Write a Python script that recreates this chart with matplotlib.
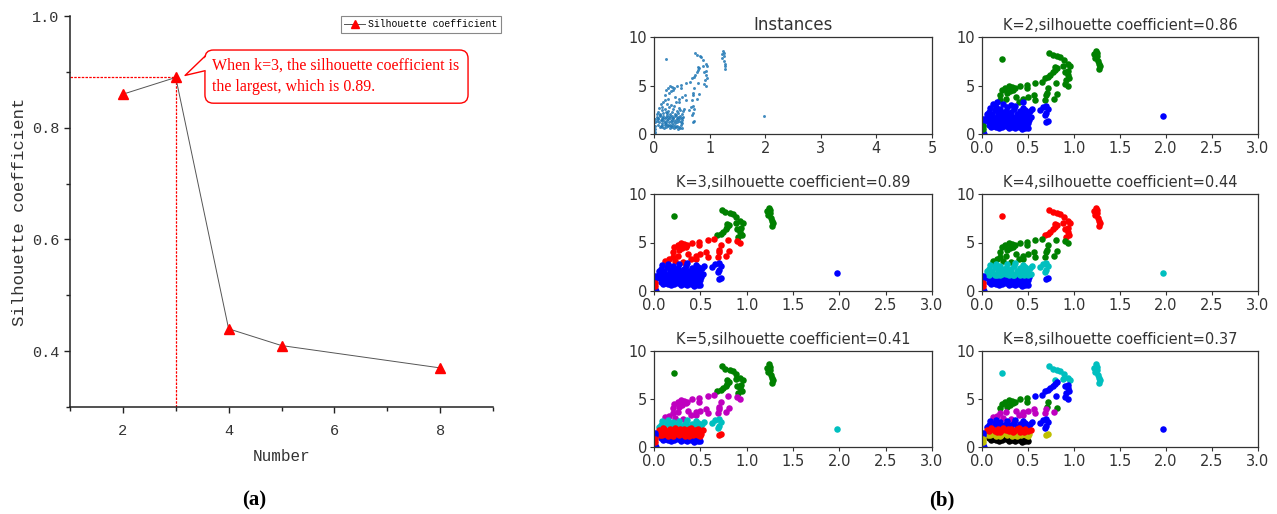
import matplotlib
matplotlib.use("Agg")
from matplotlib import pyplot as plt
from matplotlib.patches import FancyBboxPatch, Polygon
import matplotlib.ticker as tck

plt.rcParams.update({
    "font.family": "DejaVu Sans",
    "axes.linewidth": 0.9,
})

# (a) silhouette coefficient against number of clusters
K_VALUES = [2, 3, 4, 5, 8]
SIL_SCORES = [0.86, 0.89, 0.44, 0.41, 0.37]

# (b) the instances, grouped by region of the plane
top_x = [0.22, 0.73, 0.77, 0.82, 0.85, 0.89, 0.93, 0.96, 0.79, 0.88,
         1.22, 1.24, 1.25, 1.23, 1.26, 1.27, 1.28, 1.27, 1.25]
top_y = [7.7, 8.4, 8.15, 8.05, 7.95, 7.6, 7.2, 7.0, 6.95, 7.05,
         8.2, 8.6, 8.0, 7.85, 7.5, 7.2, 7.0, 6.65, 8.3]

arm_x = [0.685, 0.72, 0.74, 0.775, 0.79, 0.81, 0.90, 0.93, 0.91, 0.95, 0.94]
arm_y = [5.8, 5.9, 6.1, 6.4, 6.6, 6.8, 6.4, 6.1, 5.6, 5.8, 6.5]

mid_x = [0.58, 0.65, 0.80, 0.90, 0.93]
mid_y = [5.3, 5.4, 5.3, 5.2, 5.0]

band45_x = [0.20, 0.22, 0.255, 0.275, 0.29, 0.325, 0.36, 0.41, 0.49, 0.49,
            0.72, 0.705, 0.81, 0.30, 0.34]
band45_y = [4.05, 4.5, 4.7, 4.2, 4.9, 4.8, 4.7, 4.95, 5.1, 4.7,
            4.7, 4.2, 4.1, 4.4, 4.55]

band34_hi_x = [0.20, 0.26, 0.40, 0.45, 0.50, 0.56, 0.58, 0.69, 0.70, 0.78, 0.37]
band34_hi_y = [3.5, 3.65, 3.35, 3.6, 3.8, 4.0, 3.5, 3.5, 4.0, 3.6, 3.8]

band34_lo_x = [0.12, 0.16, 0.23, 0.31, 0.45]
band34_lo_y = [3.1, 3.25, 3.05, 2.95, 3.3]

low4_x = [0.05, 0.08, 0.11, 0.14, 0.17, 0.20, 0.23, 0.26, 0.29, 0.32, 0.35, 0.38,
          0.41, 0.44, 0.47, 0.50, 0.54, 0.09, 0.15, 0.21, 0.27, 0.36, 0.45, 0.52,
          0.63, 0.66, 0.70, 0.72, 0.69, 0.70, 1.97]
low4_y = [2.10, 2.30, 2.05, 2.50, 2.20, 2.60, 2.15, 2.40, 2.05, 2.30, 2.55, 2.10,
          2.35, 2.20, 2.50, 2.10, 2.60, 2.70, 2.80, 2.30, 2.75, 2.85, 2.70, 2.40,
          2.50, 2.80, 2.20, 2.60, 1.95, 2.90, 1.85]

low3_x = [0.05, 0.08, 0.11, 0.14, 0.17, 0.20, 0.23, 0.26, 0.29, 0.32, 0.35, 0.38,
          0.41, 0.44, 0.47, 0.50, 0.53, 0.10, 0.16, 0.22, 0.28, 0.34, 0.40, 0.46]
low3_y = [1.80, 1.65, 1.90, 1.70, 1.85, 1.60, 1.95, 1.75, 1.65, 1.90, 1.70, 1.85,
          1.60, 1.75, 1.90, 1.65, 1.80, 1.95, 1.60, 1.80, 1.90, 1.60, 1.95, 1.60]

low2_x = [0.06, 0.09, 0.12, 0.15, 0.18, 0.21, 0.24, 0.27, 0.30, 0.33, 0.36, 0.39,
          0.42, 0.45, 0.48, 0.51, 0.08, 0.14, 0.20, 0.26, 0.32, 0.38, 0.44, 0.50,
          0.70, 0.72]
low2_y = [1.30, 1.20, 1.40, 1.15, 1.35, 1.25, 1.45, 1.20, 1.35, 1.15, 1.30, 1.40,
          1.20, 1.35, 1.25, 1.40, 1.50, 1.45, 1.10, 1.50, 1.45, 1.10, 1.50, 1.15,
          1.25, 1.35]

low1_x = [0.08, 0.12, 0.15, 0.19, 0.22, 0.26, 0.29, 0.33, 0.36, 0.40, 0.43, 0.47,
          0.50, 0.10, 0.14, 0.18, 0.21, 0.25, 0.28, 0.31, 0.35, 0.38, 0.42, 0.45, 0.48]
low1_y = [0.95, 0.85, 0.75, 0.90, 0.70, 0.80, 0.65, 0.75, 0.60, 0.70, 0.55, 0.65,
          0.60, 0.70, 0.95, 0.60, 1.00, 0.90, 0.95, 0.85, 0.90, 0.80, 0.85, 0.75, 0.90]

origin_a_x = [0.01, 0.01, 0.01, 0.02]
origin_a_y = [1.5, 1.2, 0.25, 0.05]
origin_b_x = [0.015, 0.01]
origin_b_y = [0.8, 0.5]

GROUP_ORDER = ["top", "arm", "mid", "band45", "band34_hi", "band34_lo",
               "low4", "low1", "low2", "low3", "origin_a", "origin_b"]
GROUP_XY = {
    "top": (top_x, top_y), "arm": (arm_x, arm_y), "mid": (mid_x, mid_y),
    "band45": (band45_x, band45_y), "band34_hi": (band34_hi_x, band34_hi_y),
    "band34_lo": (band34_lo_x, band34_lo_y), "low4": (low4_x, low4_y),
    "low3": (low3_x, low3_y), "low2": (low2_x, low2_y), "low1": (low1_x, low1_y),
    "origin_a": (origin_a_x, origin_a_y), "origin_b": (origin_b_x, origin_b_y),
}

# cluster colour of every group, per clustering
COLORS_K2 = ["g", "g", "g", "g", "g", "b", "b", "b", "b", "b", "b", "g"]
COLORS_K3 = ["g", "g", "r", "r", "r", "r", "b", "b", "b", "b", "b", "r"]
COLORS_K4 = ["r", "r", "g", "g", "g", "g", "c", "b", "b", "c", "b", "r"]
COLORS_K5 = ["g", "g", "m", "m", "m", "m", "c", "b", "r", "r", "b", "r"]
COLORS_K8 = ["c", "b", "b", "g", "m", "m", "b", "k", "y", "r", "b", "y"]
CLUSTERINGS = [(2, COLORS_K2), (3, COLORS_K3), (4, COLORS_K4),
               (5, COLORS_K5), (8, COLORS_K8)]

W, H = 1277, 514
fig = plt.figure(figsize=(W / 100, H / 100), dpi=100)


def px_axes(left, top, right, bottom):
    return fig.add_axes([left / W, 1 - bottom / H, (right - left) / W, (bottom - top) / H])


# ---------------- (a) ----------------
mono = "Liberation Mono"
ax = px_axes(70, 16, 493, 407)
line, = ax.plot(K_VALUES, SIL_SCORES, color="#555555", lw=0.7, marker="^",
                ms=7.5, mfc="red", mec="red", label="Silhouette coefficient", zorder=3)
best = SIL_SCORES.index(max(SIL_SCORES))
best_k, best_s = K_VALUES[best], SIL_SCORES[best]
ax.set_xlim(1, 9)
ax.set_ylim(0.3, 1.0)
ax.plot([1, best_k], [best_s, best_s], color="red", lw=0.9, ls=(0, (2, 1)), zorder=2)
ax.plot([best_k, best_k], [0.3, best_s], color="red", lw=0.9, ls=(0, (2, 1)), zorder=2)

for s in ["top", "right"]:
    ax.spines[s].set_visible(False)
for s in ["left", "bottom"]:
    ax.spines[s].set_linewidth(1.1)
    ax.spines[s].set_color("#222222")
ax.set_xticks([2, 4, 6, 8])
ax.xaxis.set_minor_locator(tck.FixedLocator([1, 3, 5, 7, 9]))
ax.set_yticks([0.4, 0.6, 0.8, 1.0])
ax.yaxis.set_minor_locator(tck.FixedLocator([0.3, 0.5, 0.7, 0.9]))
ax.yaxis.set_major_formatter(tck.FormatStrFormatter("%.1f"))
ax.tick_params(which="major", length=4.5, width=1, colors="#222222", labelcolor="#333333", pad=3)
ax.tick_params(which="minor", length=3, width=1, colors="#222222")
for lab in ax.get_xticklabels() + ax.get_yticklabels():
    lab.set_fontfamily(mono)
    lab.set_fontsize(11)
ax.tick_params(axis="x", pad=8)
ax.set_xlabel("Number", fontfamily=mono, fontsize=11.5, color="#333333", labelpad=8)
ax.set_ylabel("Silhouette coefficient", fontfamily=mono, fontsize=12.5, color="#333333", labelpad=4)

leg = ax.legend(handles=[line], loc="upper right", bbox_to_anchor=(1.019, 1.0),
                borderaxespad=0, fancybox=False, edgecolor="#888888", framealpha=1,
                prop={"family": mono, "size": 7}, handlelength=2.2, handletextpad=0.3,
                borderpad=0.35, markerscale=0.7)
leg.get_frame().set_linewidth(0.8)

# callout bubble
bx0, by0, bw, bh = 0.319, 0.777, 0.622, 0.136
bubble = FancyBboxPatch((bx0, by0), bw, bh, boxstyle="round,pad=0,rounding_size=0.02",
                        transform=ax.transAxes, fc="white", ec="red", lw=1.0,
                        mutation_aspect=423 / 391, zorder=4)
ax.add_patch(bubble)
tail = Polygon([(bx0 + 0.004, 0.897), (0.272, 0.848), (bx0 + 0.004, 0.86)], closed=True,
               transform=ax.transAxes, fc="white", ec="none", zorder=5)
ax.add_patch(tail)
ax.plot([bx0, 0.272, bx0], [0.897, 0.848, 0.86], transform=ax.transAxes,
        color="red", lw=1.0, zorder=6)
ax.text(0.336, 0.846, "When k=3, the silhouette coefficient is\nthe largest, which is 0.89.",
        transform=ax.transAxes, ha="left", va="center", color="red",
        fontfamily="Liberation Serif", fontsize=11.5, linespacing=1.4, zorder=7)

fig.text(254 / W, 1 - 500 / H, "(a)", ha="center", va="center",
         fontfamily="Liberation Serif", fontweight="bold", fontsize=15)
fig.text(942 / W, 1 - 500 / H, "(b)", ha="center", va="center",
         fontfamily="Liberation Serif", fontweight="bold", fontsize=15)

# ---------------- (b) ----------------
cols = [(654, 932), (982, 1258)]
rows = [(37, 134), (194, 291), (351, 447)]
panel_axes = []
for r in rows:
    for c in cols:
        panel_axes.append(px_axes(c[0], r[0], c[1], r[1]))

score_of = dict(zip(K_VALUES, SIL_SCORES))

ax0 = panel_axes[0]
for g in GROUP_ORDER:
    gx, gy = GROUP_XY[g]
    ax0.scatter(gx, gy, s=4.5, color="#1f77b4", alpha=0.85, linewidths=0)
ax0.set_xlim(0, 5)
ax0.set_xticks([0, 1, 2, 3, 4, 5])
ax0.set_title("Instances", fontsize=12, pad=5, color="#333333")

for pax, (k, colors) in zip(panel_axes[1:], CLUSTERINGS):
    for g, col in zip(GROUP_ORDER, colors):
        gx, gy = GROUP_XY[g]
        pax.scatter(gx, gy, s=22, color=col, linewidths=0)
    pax.set_xlim(0, 3)
    pax.set_xticks([0, 0.5, 1.0, 1.5, 2.0, 2.5, 3.0])
    pax.xaxis.set_major_formatter(tck.FormatStrFormatter("%.1f"))
    pax.set_title(f"K={k},silhouette coefficient={score_of[k]:.2f}", fontsize=10.5,
                  pad=5, color="#333333")

for pax in panel_axes:
    pax.set_ylim(0, 10)
    pax.set_yticks([0, 5, 10])
    pax.tick_params(length=3, pad=2, labelsize=10.5, colors="#333333")
    for s in pax.spines.values():
        s.set_color("#333333")

fig.savefig("out.png", dpi=100)
